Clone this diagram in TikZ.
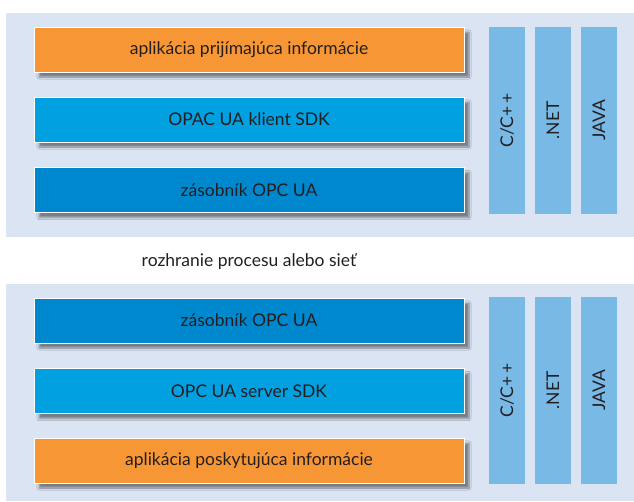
\documentclass[tikz,border=0pt]{standalone}
\usepackage{fontspec}
\setmainfont{Lato}
\usetikzlibrary{shadows.blur}
\definecolor{BG}{RGB}{218,228,243}
\definecolor{OR}{RGB}{247,150,52}
\definecolor{LB}{RGB}{0,160,225}
\definecolor{DB}{RGB}{0,136,206}
\definecolor{BR}{RGB}{120,185,230}
\definecolor{DG}{RGB}{35,31,32}
\begin{document}
\begin{tikzpicture}[x=1pt, y=-1pt,
  panel/.style={fill=BG, inner sep=0pt, minimum width=628pt, minimum height=#1},
  box/.style={fill=#1, draw=white, line width=1pt, inner sep=0pt,
              minimum width=430pt, minimum height=45pt, text=DG,
              font=\fontsize{17.5}{20}\selectfont,
              blur shadow={shadow xshift=5pt, shadow yshift=-5pt,
                           shadow blur steps=8, shadow opacity=45}},
  lang/.style={fill=BR, inner sep=0pt, minimum width=36pt, minimum height=187pt,
               text=DG, font=\fontsize{17.5}{20}\selectfont}
]
\useasboundingbox (0,0) rectangle (634,501);

% upper stack
\node[panel=224pt] (ptop) at (320,125) {};
\node[box=OR] (recv)  at (249,49.5)  {aplikácia prijímajúca informácie};
\node[box=LB] (csdk)  at (249,119.5) {OPAC UA klient SDK};
\node[box=DB] (cstk)  at (249,190)   {zásobník OPC UA};
\node[lang] (tc) at (507,120.5) {\rotatebox{90}{C/C+\,+}};
\node[lang] (tn) at (553,120.5) {\rotatebox{90}{.NET}};
\node[lang] (tj) at (599,120.5) {\rotatebox{90}{JAVA}};

\node[text=DG, font=\fontsize{17.5}{20}\selectfont] (net) at (249,262)
  {rozhranie procesu alebo sieť};

% lower stack
\node[panel=217pt] (pbot) at (320,392.5) {};
\node[box=DB] (sstk)  at (249,320.5) {zásobník OPC UA};
\node[box=LB] (ssdk)  at (249,391)   {OPC UA server SDK};
\node[box=OR] (send)  at (249,460.5) {aplikácia poskytujúca informácie};
\node[lang] (bc) at (507,390.5) {\rotatebox{90}{C/C+\,+}};
\node[lang] (bn) at (553,390.5) {\rotatebox{90}{.NET}};
\node[lang] (bj) at (599,390.5) {\rotatebox{90}{JAVA}};
\end{tikzpicture}
\end{document}
